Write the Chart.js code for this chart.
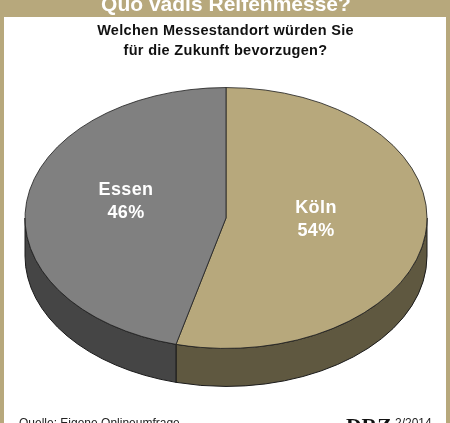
<!DOCTYPE html>
<html>
<head>
<meta charset="utf-8">
<script src="https://cdn.jsdelivr.net/npm/chart.js@4/dist/chart.umd.min.js"></script>
<style>
html, body { margin: 0; padding: 0; background: #fff; }
#page { position: relative; width: 450px; height: 423px; overflow: hidden; background: #fff; font-family: "Liberation Sans", Arial, sans-serif; }
#page canvas { position: absolute; left: 0; top: 0; }
.band { position: absolute; background: #b7a87c; }
.txt { position: absolute; white-space: nowrap; line-height: 1; }
.slice { color: #fff; font-weight: bold; font-size: 18px; text-align: center; line-height: 23px; transform: translateX(-50%); letter-spacing: 0.4px; }
</style>
</head>
<body>
<div id="page">
  <canvas id="pie" width="450" height="423"></canvas>
  <div class="band" style="left:0;top:0;width:450px;height:17px"></div>
  <div class="band" style="left:0;top:0;width:4px;height:423px"></div>
  <div class="band" style="left:446px;top:0;width:4px;height:423px"></div>
  <div class="txt" style="left:0;width:452px;text-align:center;top:-7px;color:#fff;font-weight:bold;font-size:21px;letter-spacing:0">Quo vadis Reifenmesse?</div>
  <div class="txt" style="left:0;width:451px;text-align:center;top:23px;color:#111;font-weight:bold;font-size:14.5px;letter-spacing:0.3px">Welchen Messestandort würden Sie</div>
  <div class="txt" style="left:0;width:451px;text-align:center;top:43px;color:#111;font-weight:bold;font-size:14.5px;letter-spacing:0.3px">für die Zukunft bevorzugen?</div>
  <div class="txt" style="left:19px;top:417px;color:#222;font-size:12px">Quelle: Eigene Onlineumfrage</div>
  <div class="txt" style="left:346px;top:416px;color:#111;font-family:'Liberation Serif',serif;font-weight:bold;font-size:21px;transform-origin:left top;transform:scaleX(1.03)">DRZ</div>
  <div class="txt" style="left:395px;top:417px;color:#222;font-size:12px">2/2014</div>
  <div class="txt slice" id="lab0" style="left:316px;top:196px"></div>
  <div class="txt slice" id="lab1" style="left:126px;top:178px"></div>
</div>
<script>
var categories = ['Köln', 'Essen'];
var shares = [54, 46];
var topColors = ['#b7a87c', '#808080'];
var sideColors = ['#5f5840', '#454545'];

var squash = 0.649;
var depth = 38;

// flatten the pie into an ellipse and give it a rim
var tilted = {
  id: 'tilted',
  beforeDatasetsDraw: function(chart) {
    var ctx = chart.ctx,
      arcs = chart.getDatasetMeta(0).data;

    var tilt = function(el) {
      ctx.translate(0, el.y);
      ctx.scale(1, squash);
      ctx.translate(0, -el.y);
    };

    arcs.forEach(function(el, i) {
      // only the front half of the rim can be seen
      var a = Math.max(el.startAngle, 0),
        b = Math.min(el.endAngle, Math.PI);
      if (b <= a) return;
      ctx.save();
      tilt(el);
      ctx.beginPath();
      ctx.arc(el.x, el.y + depth / squash, el.outerRadius, a, b);
      ctx.arc(el.x, el.y, el.outerRadius, b, a, true);
      ctx.closePath();
      ctx.restore();
      ctx.fillStyle = sideColors[i];
      ctx.fill();
      ctx.strokeStyle = '#1a1a1a';
      ctx.lineWidth = 1;
      ctx.stroke();
    });

    ctx.save();
    tilt(arcs[0]);
  },
  afterDatasetsDraw: function(chart) {
    chart.ctx.restore();
  }
};

new Chart(document.getElementById('pie').getContext('2d'), {
  type: 'pie',
  data: {
    labels: categories,
    datasets: [{
      data: shares,
      backgroundColor: topColors,
      borderColor: '#222',
      borderWidth: 1,
      radius: 201
    }]
  },
  options: {
    responsive: false,
    animation: false,
    devicePixelRatio: 1,
    layout: { padding: { left: 25, right: 23, top: 17, bottom: 4 } },
    plugins: { legend: { display: false }, tooltip: { enabled: false } }
  },
  plugins: [tilted]
});

categories.forEach(function(name, i) {
  document.getElementById('lab' + i).innerHTML = name + '<br>' + shares[i] + '%';
});
</script>
</body>
</html>
